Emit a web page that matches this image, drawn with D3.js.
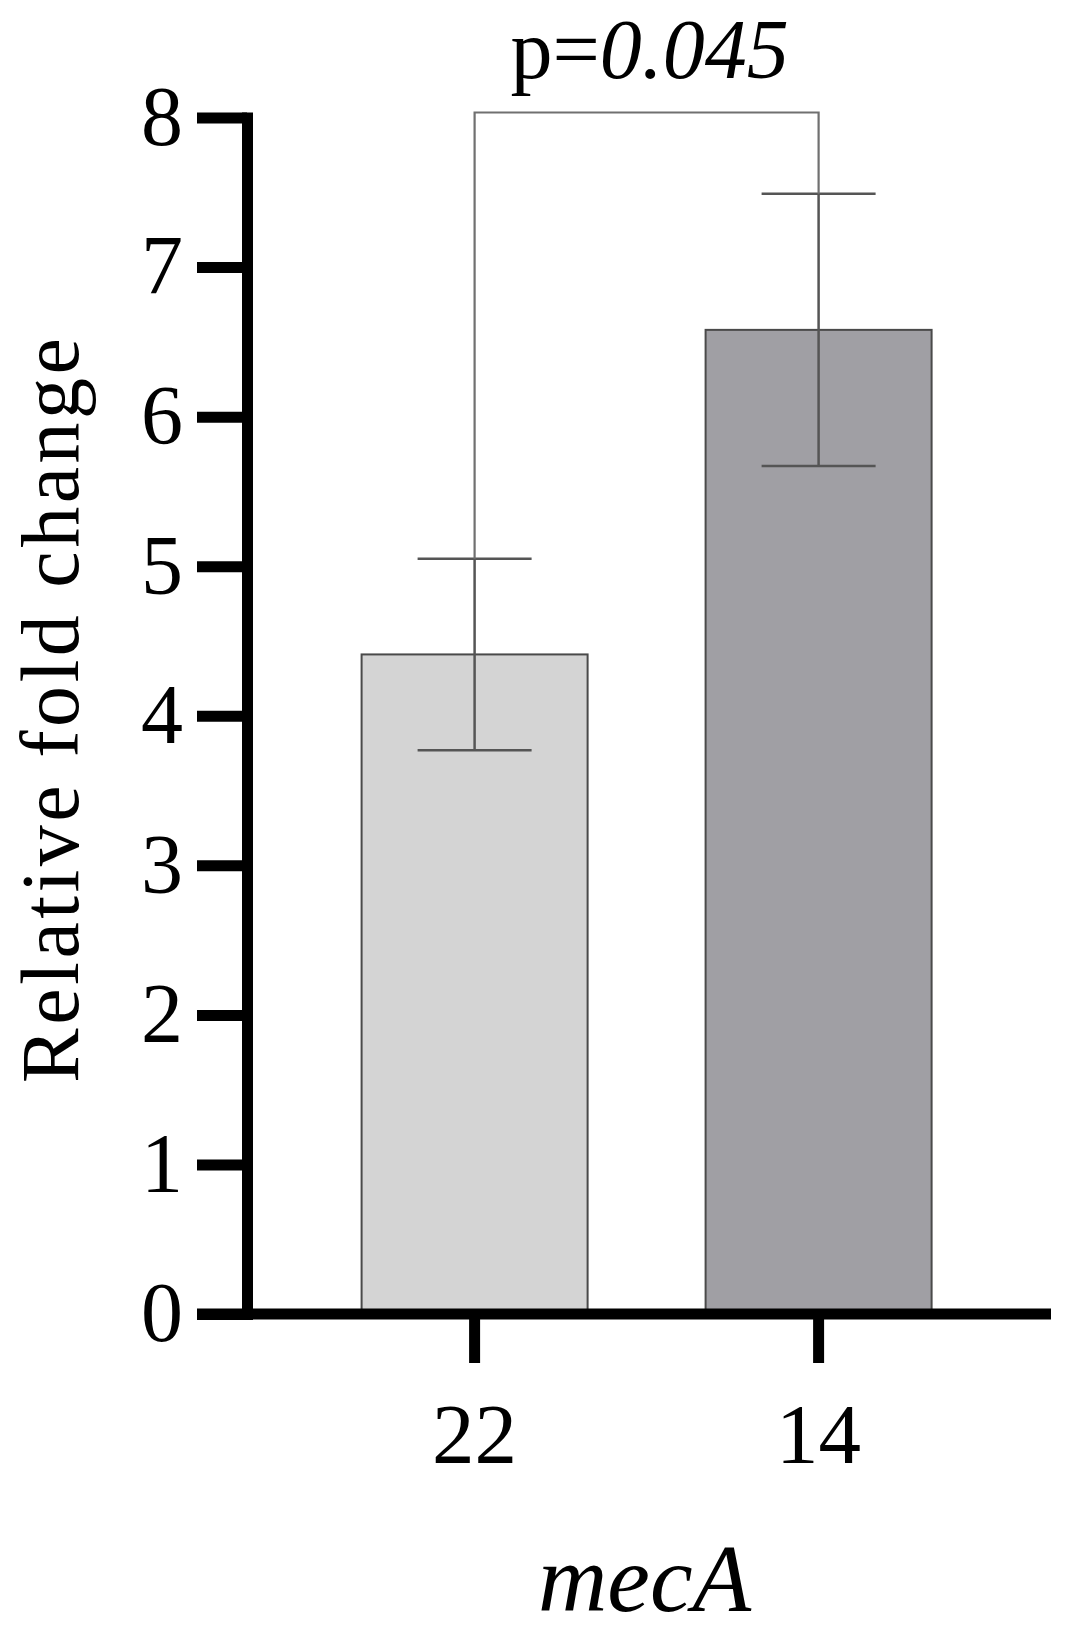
<!DOCTYPE html>
<html>
<head>
<meta charset="utf-8">
<script src="https://cdn.jsdelivr.net/npm/d3@7"></script>
<style>
  html, body { margin: 0; padding: 0; background: #fff; }
  svg { display: block; }
  text { font-family: "Liberation Serif", "Times New Roman", serif; fill: #000; }
</style>
</head>
<body>
<svg id="chart" width="1068" height="1635"></svg>
<script>
// ---- data ----
const categories = ["22", "14"];
const means = [4.41, 6.58];
const sds = [0.64, 0.91];
const barColors = ["#d4d4d4", "#a09fa4"];
const yTicks = [0, 1, 2, 3, 4, 5, 6, 7, 8];
const pLabelPrefix = "p=";
const pLabelValue = "0.045";
const yTitle = "Relative fold change";
const xTitle = "mecA";

// ---- layout ----
const svg = d3.select("#chart");
const axisX = 247;            // y-axis position
const y0px = 1314, y8px = 117.5;
const y = d3.scaleLinear().domain([0, 8]).range([y0px, y8px]);
const x = d3.scaleBand().domain(categories).range([302.6, 990.6])
  .paddingInner(0.343).paddingOuter(0.1715).align(0.5);
const axisW = 11;

// bars
svg.append("g").selectAll("rect").data(categories).join("rect")
  .attr("x", d => x(d))
  .attr("y", (d, i) => y(means[i]))
  .attr("width", x.bandwidth())
  .attr("height", (d, i) => y(0) - y(means[i]))
  .attr("fill", (d, i) => barColors[i])
  .attr("stroke", "#4a4a4a")
  .attr("stroke-width", 2);

// error bars
const capHalf = 57;
const eg = svg.append("g").attr("stroke", "#555").attr("stroke-width", 2.5).attr("fill", "none");
categories.forEach((c, i) => {
  const cx = x(c) + x.bandwidth() / 2;
  const hi = y(means[i] + sds[i]), lo = y(means[i] - sds[i]);
  eg.append("line").attr("x1", cx).attr("x2", cx).attr("y1", hi).attr("y2", lo);
  eg.append("line").attr("x1", cx - capHalf).attr("x2", cx + capHalf).attr("y1", hi).attr("y2", hi);
  eg.append("line").attr("x1", cx - capHalf).attr("x2", cx + capHalf).attr("y1", lo).attr("y2", lo);
});

// significance bracket
const c1 = x(categories[0]) + x.bandwidth() / 2;
const c2 = x(categories[1]) + x.bandwidth() / 2;
const by = y(8) - 5;
svg.append("path")
  .attr("d", `M${c1},${y(means[0] + sds[0])}V${by}H${c2}V${y(means[1] + sds[1])}`)
  .attr("fill", "none").attr("stroke", "#707070").attr("stroke-width", 2.2);

const pt = svg.append("text")
  .attr("x", (c1 + c2) / 2 + 3).attr("y", 78)
  .attr("text-anchor", "middle").attr("font-size", 84);
pt.append("tspan").text(pLabelPrefix);
pt.append("tspan").attr("font-style", "italic").text(pLabelValue);

// y axis
const yAxis = d3.axisLeft(y).tickValues(yTicks).tickFormat(d3.format("d"))
  .tickSize(50).tickSizeOuter(0).tickPadding(14);
const gy = svg.append("g").attr("transform", `translate(${axisX},0)`).call(yAxis);
gy.select(".domain").attr("stroke", "#000").attr("stroke-width", axisW).attr("stroke-linecap", "square");
gy.selectAll(".tick line").attr("stroke", "#000").attr("stroke-width", axisW);
gy.selectAll(".tick text").attr("font-size", 84).attr("font-family", "Liberation Serif").attr("fill", "#000");

// x axis
const xAxis = d3.axisBottom(x).tickSize(49).tickSizeOuter(0).tickPadding(40);
const gx = svg.append("g").attr("transform", `translate(0,${y0px})`).call(xAxis);
gx.select(".domain").remove();
gx.selectAll(".tick line").attr("stroke", "#000").attr("stroke-width", axisW);
gx.selectAll(".tick text").attr("font-size", 85).attr("font-family", "Liberation Serif").attr("fill", "#000");
svg.append("line")
  .attr("x1", axisX - 50).attr("x2", 1051)
  .attr("y1", y(0)).attr("y2", y(0))
  .attr("stroke", "#000").attr("stroke-width", axisW);

// titles
svg.append("text")
  .attr("transform", `translate(78,${(338 + 1083) / 2}) rotate(-90)`)
  .attr("text-anchor", "middle").attr("font-size", 82)
  .attr("textLength", 745).attr("lengthAdjust", "spacing")
  .text(yTitle);

svg.append("text")
  .attr("x", (c1 + c2) / 2 - 2).attr("y", 1611)
  .attr("text-anchor", "middle").attr("font-size", 96).attr("font-style", "italic")
  .text(xTitle);
</script>
</body>
</html>
